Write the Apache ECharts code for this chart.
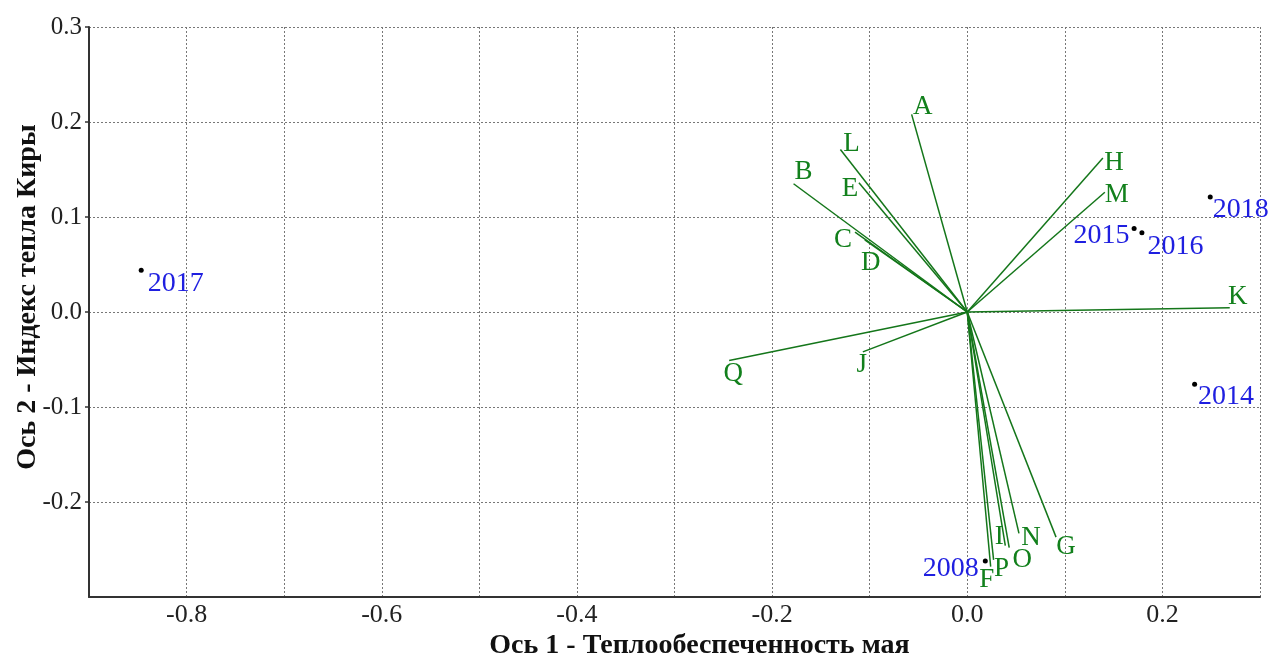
<!DOCTYPE html>
<html>
<head>
<meta charset="utf-8">
<script src="https://cdn.jsdelivr.net/npm/echarts@6/dist/echarts.min.js"></script>
<style>
html,body{margin:0;padding:0;background:#fff;}
#chart{width:1271px;height:657px;}
</style>
</head>
<body>
<div id="chart"></div>
<script>
// ---- data ----
const vectorNames = ['A','B','C','D','E','F','G','H','I','J','K','L','M','N','O','P','Q'];
const vectorX = [-0.057,-0.178,-0.115,-0.105,-0.111,0.024,0.091,0.139,0.039,-0.107,0.269,-0.130,0.141,0.053,0.043,0.027,-0.244];
const vectorY = [0.208,0.135,0.084,0.076,0.136,-0.268,-0.237,0.162,-0.246,-0.042,0.0045,0.171,0.126,-0.233,-0.248,-0.261,-0.051];

const yearNames = ['2008','2014','2015','2016','2017','2018'];
const yearX = [0.0185,0.233,0.171,0.179,-0.8465,0.249];
const yearY = [-0.262,-0.076,0.088,0.0835,0.044,0.121];

const xTitle = 'Ось 1 - Теплообеспеченность мая';
const yTitle = 'Ось 2 - Индекс тепла Киры';

// ---- label placement (styling) ----
const vecLabelOffset = {
  A:[11,-7], B:[10,-12], C:[-12,8], D:[6,23], E:[-9,6], F:[-4,13], G:[10,10],
  H:[11,5], I:[-6,-9], J:[-1,13], K:[8,-11], L:[11,-6], M:[12,3], N:[12,5],
  O:[13,12], P:[8,9], Q:[4,13]
};
const yearLabelPlace = {
  '2008':['left',[-4,8]], '2014':['right',[1,12]], '2015':['left',[-2,7]],
  '2016':['right',[3,14]], '2017':['right',[4,13]], '2018':['right',[0,13]]
};

const GREEN_LINE = '#14761a';
const GREEN_TEXT = '#12801c';
const BLUE = '#1f1fe0';
const FONT = '"Liberation Serif", "Times New Roman", serif';

const series = [];
vectorNames.forEach((n, i) => {
  series.push({
    type: 'line',
    name: 'v' + n,
    data: [[0, 0], [vectorX[i], vectorY[i]]],
    symbol: 'none',
    silent: true,
    lineStyle: { color: GREEN_LINE, width: 1.5 },
    z: 2
  });
});
series.push({
  type: 'scatter',
  name: 'vecLabels',
  symbol: 'circle',
  symbolSize: 1,
  itemStyle: { color: 'rgba(0,0,0,0)', opacity: 1 },
  silent: true,
  data: vectorNames.map((n, i) => ({
    value: [vectorX[i], vectorY[i]],
    label: {
      show: true, position: 'inside', formatter: n,
      offset: vecLabelOffset[n], color: GREEN_TEXT,
      fontFamily: FONT, fontSize: 27, align: 'center', verticalAlign: 'middle'
    }
  })),
  z: 3
});
series.push({
  type: 'scatter',
  name: 'years',
  symbol: 'circle',
  symbolSize: 5,
  itemStyle: { color: '#000', opacity: 1 },
  silent: true,
  data: yearNames.map((n, i) => ({
    value: [yearX[i], yearY[i]],
    label: {
      show: true, position: yearLabelPlace[n][0], distance: 0,
      offset: yearLabelPlace[n][1], formatter: n, color: BLUE,
      fontFamily: FONT, fontSize: 28
    }
  })),
  z: 4
});

const chart = echarts.init(document.getElementById('chart'), null, { renderer: 'canvas' });
chart.setOption({
  animation: false,
  backgroundColor: '#fff',
  grid: { left: 89, right: 11, top: 27, bottom: 60, containLabel: false, outerBoundsMode: 'none' },
  xAxis: {
    type: 'value', min: -0.9, max: 0.3, interval: 0.1,
    name: xTitle, nameLocation: 'middle', nameGap: 35, nameMoveOverlap: false,
    nameTextStyle: { fontFamily: FONT, fontWeight: 'bold', fontSize: 28, color: '#111', padding: [0, 0, 0, 50] },
    axisLine: { show: true, onZero: false, lineStyle: { color: '#333', width: 2 } },
    axisTick: { show: false },
    axisLabel: {
      margin: 5, fontFamily: FONT, fontSize: 26, color: '#222',
      formatter: v => (Math.round(v * 10) % 2 === 0 ? (Math.abs(v) < 1e-9 ? '0.0' : v.toFixed(1)) : '')
    },
    splitLine: { show: true, lineStyle: { color: '#777', type: [2, 2], width: 1 } }
  },
  yAxis: {
    type: 'value', min: -0.3, max: 0.3, interval: 0.1,
    name: yTitle, nameLocation: 'middle', nameGap: 47, nameRotate: 90, nameMoveOverlap: false,
    nameTextStyle: { fontFamily: FONT, fontWeight: 'bold', fontSize: 28, color: '#111', padding: [0, 0, 0, 30] },
    axisLine: { show: true, onZero: false, lineStyle: { color: '#333', width: 2 } },
    axisTick: { show: true, length: 4, lineStyle: { color: '#333', width: 1.5 } },
    axisLabel: {
      margin: 7, fontFamily: FONT, fontSize: 25, color: '#222', showMinLabel: false,
      formatter: v => (Math.abs(v + 0.3) < 1e-9 ? '' : (Math.abs(v) < 1e-9 ? '0.0' : v.toFixed(1)))
    },
    splitLine: { show: true, lineStyle: { color: '#777', type: [2, 2], width: 1 } }
  },
  series: series
});
</script>
</body>
</html>
